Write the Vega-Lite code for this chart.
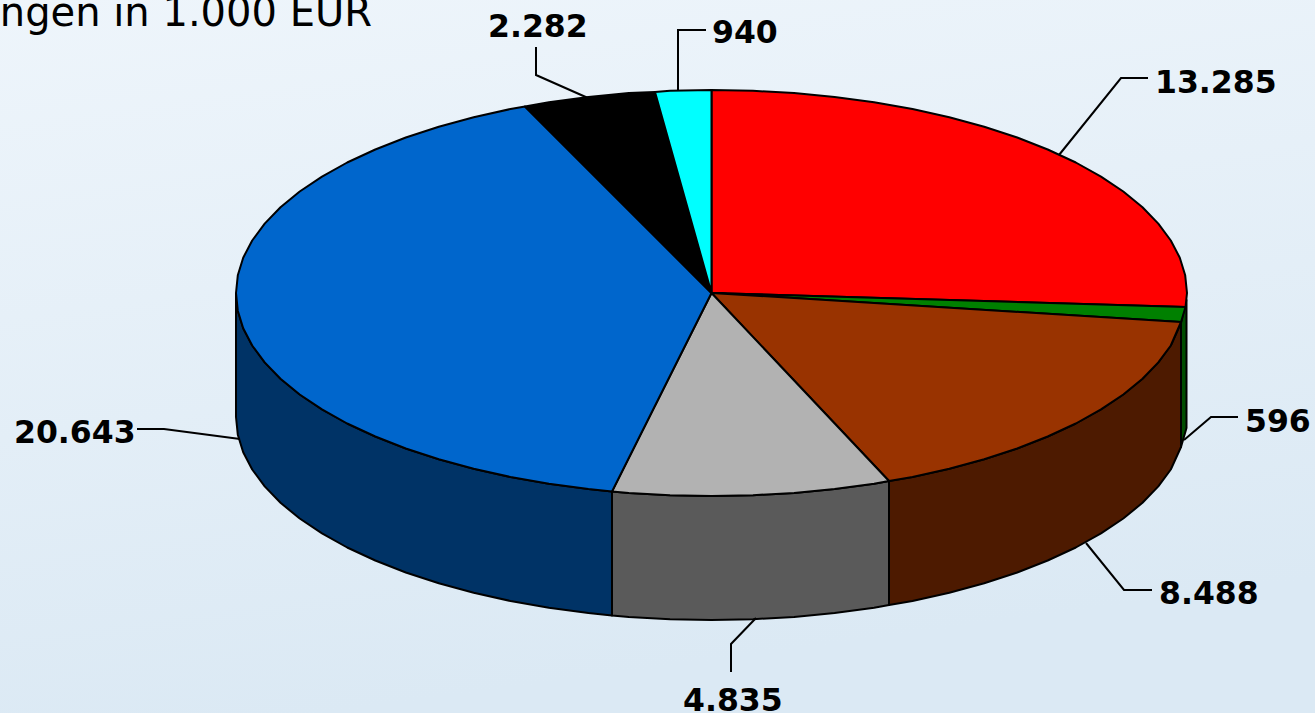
{"$schema":"https://vega.github.io/schema/vega-lite/v6.json","width":1315,"height":713,"padding":0,"autosize":{"type":"none"},
"view":{"stroke":null,"fill":{"gradient":"linear","x1":0,"y1":0,"x2":0.25,"y2":1,"stops":[{"offset":0,"color":"#eef5fb"},{"offset":1,"color":"#dbe9f4"}]}},
"config":{"axis":{"domain":false,"ticks":false,"labels":false,"grid":false,"title":null}},
"datasets":{"slices":[
{"slice":"blue side","order":0,"x":236,"y":293},{"slice":"blue side","order":1,"x":237.8,"y":310.7},{"slice":"blue side","order":2,"x":243.2,"y":328.3},{"slice":"blue side","order":3,"x":252.2,"y":345.5},{"slice":"blue side","order":4,"x":264.7,"y":362.4},{"slice":"blue side","order":5,"x":280.5,"y":378.8},{"slice":"blue side","order":6,"x":299.7,"y":394.5},{"slice":"blue side","order":7,"x":322,"y":409.4},{"slice":"blue side","order":8,"x":347.2,"y":423.5},{"slice":"blue side","order":9,"x":375.3,"y":436.5},{"slice":"blue side","order":10,"x":405.8,"y":448.5},{"slice":"blue side","order":11,"x":438.8,"y":459.3},{"slice":"blue side","order":12,"x":473.7,"y":468.8},{"slice":"blue side","order":13,"x":510.5,"y":477},{"slice":"blue side","order":14,"x":548.9,"y":483.8},{"slice":"blue side","order":15,"x":588.4,"y":489.1},{"slice":"blue side","order":16,"x":612,"y":491.5},{"slice":"blue side","order":17,"x":612,"y":615.5},{"slice":"blue side","order":18,"x":588.4,"y":613.1},{"slice":"blue side","order":19,"x":548.9,"y":607.8},{"slice":"blue side","order":20,"x":510.5,"y":601},{"slice":"blue side","order":21,"x":473.7,"y":592.8},{"slice":"blue side","order":22,"x":438.8,"y":583.3},{"slice":"blue side","order":23,"x":405.8,"y":572.5},{"slice":"blue side","order":24,"x":375.3,"y":560.5},{"slice":"blue side","order":25,"x":347.2,"y":547.5},{"slice":"blue side","order":26,"x":322,"y":533.4},{"slice":"blue side","order":27,"x":299.7,"y":518.5},{"slice":"blue side","order":28,"x":280.5,"y":502.8},{"slice":"blue side","order":29,"x":264.7,"y":486.4},{"slice":"blue side","order":30,"x":252.2,"y":469.5},{"slice":"blue side","order":31,"x":243.2,"y":452.3},{"slice":"blue side","order":32,"x":237.8,"y":434.7},{"slice":"blue side","order":33,"x":236,"y":417},{"slice":"blue side","order":34,"x":236,"y":293},
{"slice":"gray side","order":0,"x":612,"y":491.5},{"slice":"gray side","order":1,"x":628.9,"y":492.9},{"slice":"gray side","order":2,"x":670,"y":495.2},{"slice":"gray side","order":3,"x":711.5,"y":496},{"slice":"gray side","order":4,"x":753,"y":495.2},{"slice":"gray side","order":5,"x":794.1,"y":492.9},{"slice":"gray side","order":6,"x":834.6,"y":489.1},{"slice":"gray side","order":7,"x":874.1,"y":483.8},{"slice":"gray side","order":8,"x":889,"y":481},{"slice":"gray side","order":9,"x":889,"y":605},{"slice":"gray side","order":10,"x":874.1,"y":607.8},{"slice":"gray side","order":11,"x":834.6,"y":613.1},{"slice":"gray side","order":12,"x":794.1,"y":616.9},{"slice":"gray side","order":13,"x":753,"y":619.2},{"slice":"gray side","order":14,"x":711.5,"y":620},{"slice":"gray side","order":15,"x":670,"y":619.2},{"slice":"gray side","order":16,"x":628.9,"y":616.9},{"slice":"gray side","order":17,"x":612,"y":615.5},{"slice":"gray side","order":18,"x":612,"y":491.5},
{"slice":"brown side","order":0,"x":889,"y":481},{"slice":"brown side","order":1,"x":912.5,"y":477},{"slice":"brown side","order":2,"x":949.3,"y":468.8},{"slice":"brown side","order":3,"x":984.2,"y":459.3},{"slice":"brown side","order":4,"x":1017.2,"y":448.5},{"slice":"brown side","order":5,"x":1047.7,"y":436.5},{"slice":"brown side","order":6,"x":1075.8,"y":423.5},{"slice":"brown side","order":7,"x":1101,"y":409.4},{"slice":"brown side","order":8,"x":1123.3,"y":394.5},{"slice":"brown side","order":9,"x":1142.5,"y":378.8},{"slice":"brown side","order":10,"x":1158.3,"y":362.4},{"slice":"brown side","order":11,"x":1170.8,"y":345.5},{"slice":"brown side","order":12,"x":1181,"y":323},{"slice":"brown side","order":13,"x":1181,"y":447},{"slice":"brown side","order":14,"x":1170.8,"y":469.5},{"slice":"brown side","order":15,"x":1158.3,"y":486.4},{"slice":"brown side","order":16,"x":1142.5,"y":502.8},{"slice":"brown side","order":17,"x":1123.3,"y":518.5},{"slice":"brown side","order":18,"x":1101,"y":533.4},{"slice":"brown side","order":19,"x":1075.8,"y":547.5},{"slice":"brown side","order":20,"x":1047.7,"y":560.5},{"slice":"brown side","order":21,"x":1017.2,"y":572.5},{"slice":"brown side","order":22,"x":984.2,"y":583.3},{"slice":"brown side","order":23,"x":949.3,"y":592.8},{"slice":"brown side","order":24,"x":912.5,"y":601},{"slice":"brown side","order":25,"x":889,"y":605},{"slice":"brown side","order":26,"x":889,"y":481},
{"slice":"green side","order":0,"x":1181,"y":323},{"slice":"green side","order":1,"x":1186.5,"y":300},{"slice":"green side","order":2,"x":1186.5,"y":428},{"slice":"green side","order":3,"x":1181,"y":447},{"slice":"green side","order":4,"x":1181,"y":323},
{"slice":"red","order":0,"x":711.5,"y":293},{"slice":"red","order":1,"x":1185.5,"y":307},{"slice":"red","order":2,"x":1187,"y":293},{"slice":"red","order":3,"x":1185.2,"y":275.3},{"slice":"red","order":4,"x":1179.8,"y":257.7},{"slice":"red","order":5,"x":1170.8,"y":240.5},{"slice":"red","order":6,"x":1158.3,"y":223.6},{"slice":"red","order":7,"x":1142.5,"y":207.2},{"slice":"red","order":8,"x":1123.3,"y":191.5},{"slice":"red","order":9,"x":1101,"y":176.6},{"slice":"red","order":10,"x":1075.8,"y":162.5},{"slice":"red","order":11,"x":1047.7,"y":149.5},{"slice":"red","order":12,"x":1017.2,"y":137.5},{"slice":"red","order":13,"x":984.2,"y":126.7},{"slice":"red","order":14,"x":949.3,"y":117.2},{"slice":"red","order":15,"x":912.5,"y":109},{"slice":"red","order":16,"x":874.1,"y":102.2},{"slice":"red","order":17,"x":834.6,"y":96.9},{"slice":"red","order":18,"x":794.1,"y":93.1},{"slice":"red","order":19,"x":753,"y":90.8},{"slice":"red","order":20,"x":711.5,"y":90},{"slice":"red","order":21,"x":711.5,"y":293},
{"slice":"green","order":0,"x":711.5,"y":293},{"slice":"green","order":1,"x":1181,"y":322},{"slice":"green","order":2,"x":1185.5,"y":307},{"slice":"green","order":3,"x":711.5,"y":293},
{"slice":"brown","order":0,"x":711.5,"y":293},{"slice":"brown","order":1,"x":889,"y":481},{"slice":"brown","order":2,"x":912.5,"y":477},{"slice":"brown","order":3,"x":949.3,"y":468.8},{"slice":"brown","order":4,"x":984.2,"y":459.3},{"slice":"brown","order":5,"x":1017.2,"y":448.5},{"slice":"brown","order":6,"x":1047.7,"y":436.5},{"slice":"brown","order":7,"x":1075.8,"y":423.5},{"slice":"brown","order":8,"x":1101,"y":409.4},{"slice":"brown","order":9,"x":1123.3,"y":394.5},{"slice":"brown","order":10,"x":1142.5,"y":378.8},{"slice":"brown","order":11,"x":1158.3,"y":362.4},{"slice":"brown","order":12,"x":1170.8,"y":345.5},{"slice":"brown","order":13,"x":1181,"y":322},{"slice":"brown","order":14,"x":711.5,"y":293},
{"slice":"gray","order":0,"x":711.5,"y":293},{"slice":"gray","order":1,"x":612,"y":491.5},{"slice":"gray","order":2,"x":628.9,"y":492.9},{"slice":"gray","order":3,"x":670,"y":495.2},{"slice":"gray","order":4,"x":711.5,"y":496},{"slice":"gray","order":5,"x":753,"y":495.2},{"slice":"gray","order":6,"x":794.1,"y":492.9},{"slice":"gray","order":7,"x":834.6,"y":489.1},{"slice":"gray","order":8,"x":874.1,"y":483.8},{"slice":"gray","order":9,"x":889,"y":481},{"slice":"gray","order":10,"x":711.5,"y":293},
{"slice":"blue","order":0,"x":711.5,"y":293},{"slice":"blue","order":1,"x":525,"y":106.5},{"slice":"blue","order":2,"x":510.5,"y":109},{"slice":"blue","order":3,"x":473.7,"y":117.2},{"slice":"blue","order":4,"x":438.8,"y":126.7},{"slice":"blue","order":5,"x":405.8,"y":137.5},{"slice":"blue","order":6,"x":375.3,"y":149.5},{"slice":"blue","order":7,"x":347.2,"y":162.5},{"slice":"blue","order":8,"x":322,"y":176.6},{"slice":"blue","order":9,"x":299.7,"y":191.5},{"slice":"blue","order":10,"x":280.5,"y":207.2},{"slice":"blue","order":11,"x":264.7,"y":223.6},{"slice":"blue","order":12,"x":252.2,"y":240.5},{"slice":"blue","order":13,"x":243.2,"y":257.7},{"slice":"blue","order":14,"x":237.8,"y":275.3},{"slice":"blue","order":15,"x":236,"y":293},{"slice":"blue","order":16,"x":237.8,"y":310.7},{"slice":"blue","order":17,"x":243.2,"y":328.3},{"slice":"blue","order":18,"x":252.2,"y":345.5},{"slice":"blue","order":19,"x":264.7,"y":362.4},{"slice":"blue","order":20,"x":280.5,"y":378.8},{"slice":"blue","order":21,"x":299.7,"y":394.5},{"slice":"blue","order":22,"x":322,"y":409.4},{"slice":"blue","order":23,"x":347.2,"y":423.5},{"slice":"blue","order":24,"x":375.3,"y":436.5},{"slice":"blue","order":25,"x":405.8,"y":448.5},{"slice":"blue","order":26,"x":438.8,"y":459.3},{"slice":"blue","order":27,"x":473.7,"y":468.8},{"slice":"blue","order":28,"x":510.5,"y":477},{"slice":"blue","order":29,"x":548.9,"y":483.8},{"slice":"blue","order":30,"x":588.4,"y":489.1},{"slice":"blue","order":31,"x":612,"y":491.5},{"slice":"blue","order":32,"x":711.5,"y":293},
{"slice":"black","order":0,"x":711.5,"y":293},{"slice":"black","order":1,"x":655,"y":92},{"slice":"black","order":2,"x":628.9,"y":93.1},{"slice":"black","order":3,"x":588.4,"y":96.9},{"slice":"black","order":4,"x":548.9,"y":102.2},{"slice":"black","order":5,"x":525,"y":106.5},{"slice":"black","order":6,"x":711.5,"y":293},
{"slice":"cyan","order":0,"x":711.5,"y":293},{"slice":"cyan","order":1,"x":711.5,"y":90},{"slice":"cyan","order":2,"x":670,"y":90.8},{"slice":"cyan","order":3,"x":655,"y":92},{"slice":"cyan","order":4,"x":711.5,"y":293}
],
"leaders":[
{"label":"13.285","order":0,"x":1059,"y":155},{"label":"13.285","order":1,"x":1121,"y":78},{"label":"13.285","order":2,"x":1148,"y":78},
{"label":"596","order":0,"x":1184,"y":440},{"label":"596","order":1,"x":1211,"y":417},{"label":"596","order":2,"x":1238,"y":417},
{"label":"8.488","order":0,"x":1086,"y":543},{"label":"8.488","order":1,"x":1124,"y":590},{"label":"8.488","order":2,"x":1152,"y":590},
{"label":"4.835","order":0,"x":756,"y":618},{"label":"4.835","order":1,"x":731,"y":644},{"label":"4.835","order":2,"x":731,"y":672},
{"label":"20.643","order":0,"x":240,"y":439},{"label":"20.643","order":1,"x":164,"y":429},{"label":"20.643","order":2,"x":137,"y":429},
{"label":"2.282","order":0,"x":588,"y":98},{"label":"2.282","order":1,"x":536,"y":75},{"label":"2.282","order":2,"x":536,"y":47},
{"label":"940","order":0,"x":678,"y":91},{"label":"940","order":1,"x":678,"y":30},{"label":"940","order":2,"x":706,"y":30}
],
"labels":[
{"label":"13.285","x":1155,"y":93},{"label":"596","x":1245,"y":432},{"label":"8.488","x":1159,"y":604},{"label":"4.835","x":683,"y":711},{"label":"20.643","x":14,"y":443},{"label":"2.282","x":488,"y":37},{"label":"940","x":712,"y":43}
],
"title":[{"label":"ngen in 1.000 EUR","x":372,"y":26}]},
"encoding":{"x":{"field":"x","type":"quantitative","scale":{"domain":[0,1315]},"axis":null},"y":{"field":"y","type":"quantitative","scale":{"domain":[0,713],"reverse":true},"axis":null}},
"layer":[
{"data":{"name":"slices"},"mark":{"type":"line","stroke":"#000000","strokeWidth":2,"strokeJoin":"round"},"encoding":{"order":{"field":"order","type":"quantitative"},"fill":{"field":"slice","type":"nominal","legend":null,"scale":{"domain":["blue side","gray side","brown side","green side","red","green","brown","gray","blue","black","cyan"],"range":["#003366","#5a5a5a","#4d1a00","#004d00","#ff0000","#008000","#993300","#b2b2b2","#0066cc","#000000","#00ffff"]}}}},
{"data":{"name":"leaders"},"mark":{"type":"line","color":"#000000","strokeWidth":2},"encoding":{"order":{"field":"order","type":"quantitative"},"detail":{"field":"label"}}},
{"data":{"name":"labels"},"mark":{"type":"text","font":"DejaVu Sans","fontWeight":"bold","fontSize":31.5,"align":"left","baseline":"alphabetic","color":"#000000"},"encoding":{"text":{"field":"label"}}},
{"data":{"name":"title"},"mark":{"type":"text","font":"DejaVu Sans","fontSize":40,"align":"right","baseline":"alphabetic","color":"#000000"},"encoding":{"text":{"field":"label"}}}
]}
